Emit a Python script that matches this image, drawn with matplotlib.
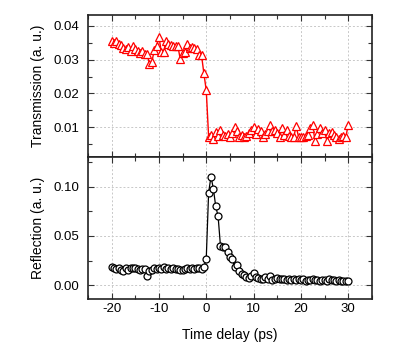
import numpy as np
import matplotlib
matplotlib.use("Agg")
import matplotlib.pyplot as plt
from matplotlib.ticker import MultipleLocator, FormatStrFormatter

plt.rcParams['font.family'] = ['Liberation Sans', 'DejaVu Sans']
plt.rcParams['axes.unicode_minus'] = False

# Time delay grid (ps)
time_delay = np.arange(-20, 30.5, 0.5)

# Transmission (a. u.)
transmission = [
    0.0355, 0.0350, 0.0356, 0.0345, 0.0343, 0.0335, 0.0330, 0.0338, 0.0326, 0.0340,
    0.0332, 0.0325, 0.0320, 0.0326, 0.0318, 0.0316, 0.0288, 0.0293, 0.0328, 0.0340,
    0.0368, 0.0323, 0.0323, 0.0356, 0.0345, 0.0342, 0.0340, 0.0340, 0.0340, 0.0302,
    0.0320, 0.0323, 0.0345, 0.0335, 0.0338, 0.0335, 0.0330, 0.0315, 0.0313, 0.0259,
    0.0209, 0.0072, 0.0076, 0.0066, 0.0086, 0.0073, 0.0091, 0.0076, 0.0073, 0.0080,
    0.0072, 0.0082, 0.0100, 0.0088, 0.0072, 0.0078, 0.0072, 0.0074, 0.0082, 0.0093,
    0.0100, 0.0080, 0.0095, 0.0088, 0.0072, 0.0080, 0.0089, 0.0106, 0.0089, 0.0091,
    0.0082, 0.0072, 0.0097, 0.0076, 0.0091, 0.0074, 0.0070, 0.0072, 0.0103, 0.0072,
    0.0070, 0.0072, 0.0074, 0.0078, 0.0098, 0.0106, 0.0058, 0.0080, 0.0097, 0.0082,
    0.0092, 0.0060, 0.0082, 0.0085, 0.0078, 0.0070, 0.0065, 0.0070, 0.0075, 0.0070,
    0.0108,
]

# Reflection (a. u.)
reflection = [
    0.0180, 0.0170, 0.0160, 0.0175, 0.0155, 0.0140, 0.0175, 0.0150, 0.0170, 0.0175,
    0.0175, 0.0165, 0.0150, 0.0160, 0.0160, 0.0092, 0.0140, 0.0150, 0.0170, 0.0165,
    0.0175, 0.0160, 0.0180, 0.0165, 0.0175, 0.0160, 0.0175, 0.0160, 0.0165, 0.0150,
    0.0155, 0.0165, 0.0175, 0.0165, 0.0175, 0.0165, 0.0170, 0.0175, 0.0165, 0.0185,
    0.0270, 0.0940, 0.1100, 0.0980, 0.0800, 0.0700, 0.0400, 0.0390, 0.0385, 0.0337,
    0.0285, 0.0265, 0.0185, 0.0210, 0.0140, 0.0110, 0.0100, 0.0080, 0.0070, 0.0090,
    0.0120, 0.0080, 0.0070, 0.0060, 0.0065, 0.0085, 0.0060, 0.0090, 0.0055, 0.0065,
    0.0075, 0.0060, 0.0065, 0.0060, 0.0055, 0.0060, 0.0050, 0.0065, 0.0055, 0.0060,
    0.0050, 0.0060, 0.0045, 0.0055, 0.0050, 0.0060, 0.0050, 0.0055, 0.0045, 0.0055,
    0.0050, 0.0045, 0.0060, 0.0050, 0.0050, 0.0045, 0.0055, 0.0040, 0.0045, 0.0040,
    0.0045,
]

fig = plt.figure(figsize=(4.15, 3.59), dpi=100)
ax1 = fig.add_axes([0.212, 0.5627, 0.684, 0.3955])
ax2 = fig.add_axes([0.212, 0.167, 0.684, 0.3957], sharex=ax1)

ax1.plot(time_delay, transmission, color='#ff0000', lw=1.0,
         marker='^', ms=6, mfc='white', mec='#ff0000', mew=0.9, zorder=3)
ax2.plot(time_delay, reflection, color='black', lw=0.9,
         marker='o', ms=5, mfc='white', mec='black', mew=0.9, zorder=3)

ax1.set_xlim(-25, 35)
ax1.set_ylim(0.0012, 0.0432)
ax2.set_ylim(-0.014, 0.13)

ax1.yaxis.set_major_locator(MultipleLocator(0.01))
ax1.yaxis.set_minor_locator(MultipleLocator(0.005))
ax2.yaxis.set_major_locator(MultipleLocator(0.05))
ax2.yaxis.set_minor_locator(MultipleLocator(0.025))
ax2.xaxis.set_major_locator(MultipleLocator(10))
ax2.xaxis.set_minor_locator(MultipleLocator(5))

ax1.yaxis.set_major_formatter(FormatStrFormatter('%.2f'))
ax2.yaxis.set_major_formatter(FormatStrFormatter('%.2f'))

for ax in (ax1, ax2):
    ax.grid(True, which='major', color='#c8c8c8', ls=(0, (2, 2)), lw=0.7)
    ax.tick_params(which='both', direction='in', top=True, right=True,
                   labelsize=9.5, color='#333333')
    ax.tick_params(which='major', length=4.5, width=0.8)
    ax.tick_params(which='minor', length=3, width=0.8)
    ax.tick_params(axis='y', which='both', pad=6.5)
    ax.tick_params(axis='x', which='both', pad=3)
    for s in ax.spines.values():
        s.set_linewidth(1.2)
        s.set_color('#222222')

plt.setp(ax1.get_xticklabels(), visible=False)

ax1.set_ylabel('Transmission (a. u.)', fontsize=10)
ax2.set_ylabel('Reflection (a. u.)', fontsize=10)
ax2.set_xlabel('Time delay (ps)', fontsize=10, labelpad=9)
ax1.yaxis.set_label_coords(-0.152, 0.5)
ax2.yaxis.set_label_coords(-0.152, 0.5)

fig.savefig('out.png', dpi=100)
